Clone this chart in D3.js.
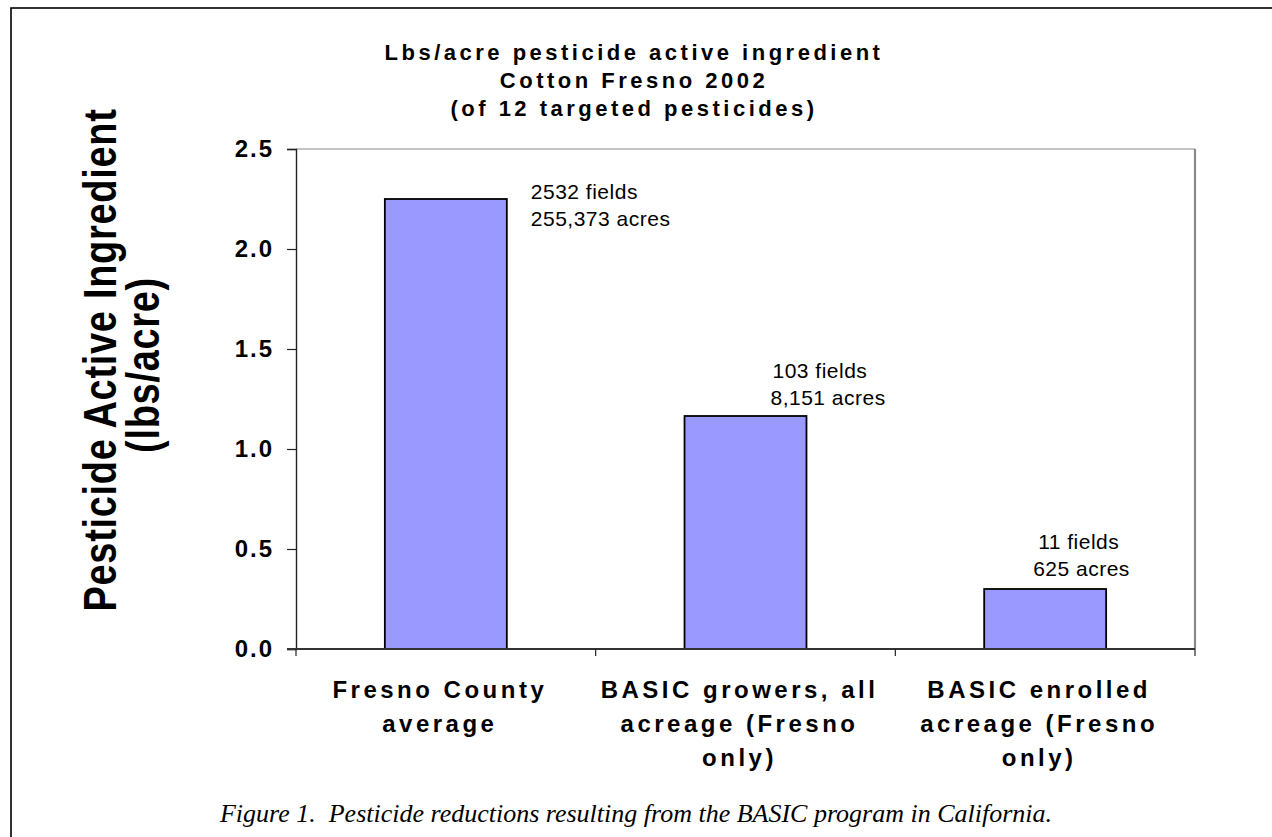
<!DOCTYPE html>
<html>
<head>
<meta charset="utf-8">
<script src="https://cdn.jsdelivr.net/npm/d3@7"></script>
<style>
  html, body { margin: 0; padding: 0; background: #fff; }
  svg { display: block; }
</style>
</head>
<body>
<div id="chart"></div>
<script>
// ---------------- data ----------------
const categories = [
  "Fresno County average",
  "BASIC growers, all acreage (Fresno only)",
  "BASIC enrolled acreage (Fresno only)"
];
const categoryLines = [
  ["Fresno County", "average"],
  ["BASIC growers, all", "acreage (Fresno", "only)"],
  ["BASIC enrolled", "acreage (Fresno", "only)"]
];
const values = [2.25, 1.165, 0.30];
const fieldLabels = ["2532 fields", "103 fields", "11 fields"];
const acreLabels = ["255,373 acres", "8,151 acres", "625 acres"];
const yTicks = [0, 0.5, 1.0, 1.5, 2.0, 2.5];
const titleLines = [
  "Lbs/acre pesticide active ingredient",
  "Cotton Fresno 2002",
  "(of 12 targeted pesticides)"
];
const yTitleLines = ["Pesticide Active Ingredient", "(lbs/acre)"];
const caption = "Figure 1.\u00a0 Pesticide reductions resulting from the BASIC program in California.";

// ---------------- layout ----------------
const W = 1272, H = 837;
const plot = { left: 296, right: 1195, top: 149, bottom: 649 };
const barFrac = 0.407;
// annotation placement relative to bar (right edge, top)
const annot = [
  { dx: 24, dy1: 0, dy2: 27, dx2: 0 },
  { dx: -34, dy1: -38, dy2: -11, dx2: -2 },
  { dx: -68, dy1: -40, dy2: -13, dx2: -5 }
];

const svg = d3.select("#chart").append("svg")
  .attr("width", W).attr("height", H);

svg.append("rect").attr("width", W).attr("height", H).attr("fill", "#fff");

// outer frame (extends beyond the viewport at right and bottom)
svg.append("rect")
  .attr("x", 11).attr("y", 8).attr("width", 1400).attr("height", 1000)
  .attr("fill", "none").attr("stroke", "#000").attr("stroke-width", 1.6);

const x = d3.scaleBand().domain(categories).range([plot.left, plot.right]).padding(0);
const y = d3.scaleLinear().domain([0, 2.5]).range([plot.bottom, plot.top]);

// plot frame: top and right gray
svg.append("line")
  .attr("x1", plot.left).attr("x2", plot.right)
  .attr("y1", plot.top).attr("y2", plot.top)
  .attr("stroke", "#8a8a8a").attr("stroke-width", 1.2);
svg.append("line")
  .attr("x1", plot.right).attr("x2", plot.right)
  .attr("y1", plot.top).attr("y2", plot.bottom)
  .attr("stroke", "#8a8a8a").attr("stroke-width", 2.2);

// bars
const bw = x.bandwidth() * barFrac;
svg.append("g").selectAll("rect")
  .data(values)
  .join("rect")
  .attr("x", (d, i) => x(categories[i]) + (x.bandwidth() - bw) / 2)
  .attr("y", d => y(d))
  .attr("width", bw)
  .attr("height", d => y(0) - y(d))
  .attr("fill", "#9999ff")
  .attr("stroke", "#000")
  .attr("stroke-width", 1.8);

// y axis
const yAxis = d3.axisLeft(y).tickValues(yTicks).tickSize(9).tickPadding(13)
  .tickFormat(d3.format(".1f"));
const gy = svg.append("g").attr("transform", `translate(${plot.left},0)`).call(yAxis);
gy.select(".domain").attr("stroke", "#222").attr("stroke-width", 1.4);
gy.selectAll(".tick line").attr("stroke", "#222").attr("stroke-width", 1.2);
gy.selectAll(".tick text")
  .attr("font-family", "'Liberation Sans', Arial, sans-serif")
  .attr("font-weight", "bold")
  .attr("font-size", 24)
  .attr("letter-spacing", "2px")
  .attr("fill", "#000");

// x axis (ticks at category boundaries)
const boundaries = categories.map(c => x(c)).concat([plot.right]);
const gx = svg.append("g");
gx.append("line")
  .attr("x1", plot.left - 9).attr("x2", plot.right)
  .attr("y1", y(0)).attr("y2", y(0))
  .attr("stroke", "#333").attr("stroke-width", 1.8);
gx.selectAll("line.tk").data(boundaries).join("line")
  .attr("class", "tk")
  .attr("x1", d => d).attr("x2", d => d)
  .attr("y1", y(0)).attr("y2", y(0) + 7)
  .attr("stroke", "#222").attr("stroke-width", 1.2);

// category labels
const catG = svg.append("g")
  .attr("font-family", "'Liberation Sans', Arial, sans-serif")
  .attr("font-weight", "bold")
  .attr("font-size", 24)
  .attr("letter-spacing", "3.5px")
  .attr("text-anchor", "middle")
  .attr("fill", "#000");
categoryLines.forEach((lines, i) => {
  const cx = x(categories[i]) + x.bandwidth() / 2 - 6;
  lines.forEach((ln, j) => {
    catG.append("text").attr("x", cx).attr("y", 698 + j * 34).text(ln);
  });
});

// annotations
const aG = svg.append("g")
  .attr("font-family", "'Liberation Sans', Arial, sans-serif")
  .attr("font-size", 21)
  .attr("letter-spacing", "0.5px")
  .attr("fill", "#000");
values.forEach((v, i) => {
  const rx = x(categories[i]) + (x.bandwidth() + bw) / 2;
  const ty = y(v);
  aG.append("text").attr("x", rx + annot[i].dx).attr("y", ty + annot[i].dy1).text(fieldLabels[i]);
  aG.append("text").attr("x", rx + annot[i].dx + annot[i].dx2).attr("y", ty + annot[i].dy2).text(acreLabels[i]);
});

// title
const tG = svg.append("g")
  .attr("font-family", "'Liberation Sans', Arial, sans-serif")
  .attr("font-weight", "bold")
  .attr("font-size", 22)
  .attr("letter-spacing", "3.5px")
  .attr("text-anchor", "middle")
  .attr("fill", "#000");
titleLines.forEach((t, i) => {
  tG.append("text").attr("x", 634).attr("y", 60 + i * 28).text(t);
});

// y axis title
const ytG = svg.append("g")
  .attr("font-family", "'Liberation Sans', Arial, sans-serif")
  .attr("font-weight", "bold")
  .attr("font-size", 38)
  .attr("letter-spacing", "0.7px")
  .attr("text-anchor", "middle")
  .attr("fill", "#000");
ytG.append("text").attr("transform", "translate(116,360) scale(1.22,1) rotate(-90)").text(yTitleLines[0]);
ytG.append("text").attr("transform", "translate(159,365) scale(1.22,1) rotate(-90)").text(yTitleLines[1]);

// caption
svg.append("text")
  .attr("x", 636).attr("y", 822)
  .attr("text-anchor", "middle")
  .attr("font-family", "'Liberation Serif', 'Times New Roman', serif")
  .attr("font-style", "italic")
  .attr("font-size", 26)
  .attr("fill", "#000")
  .text(caption);
</script>
</body>
</html>
